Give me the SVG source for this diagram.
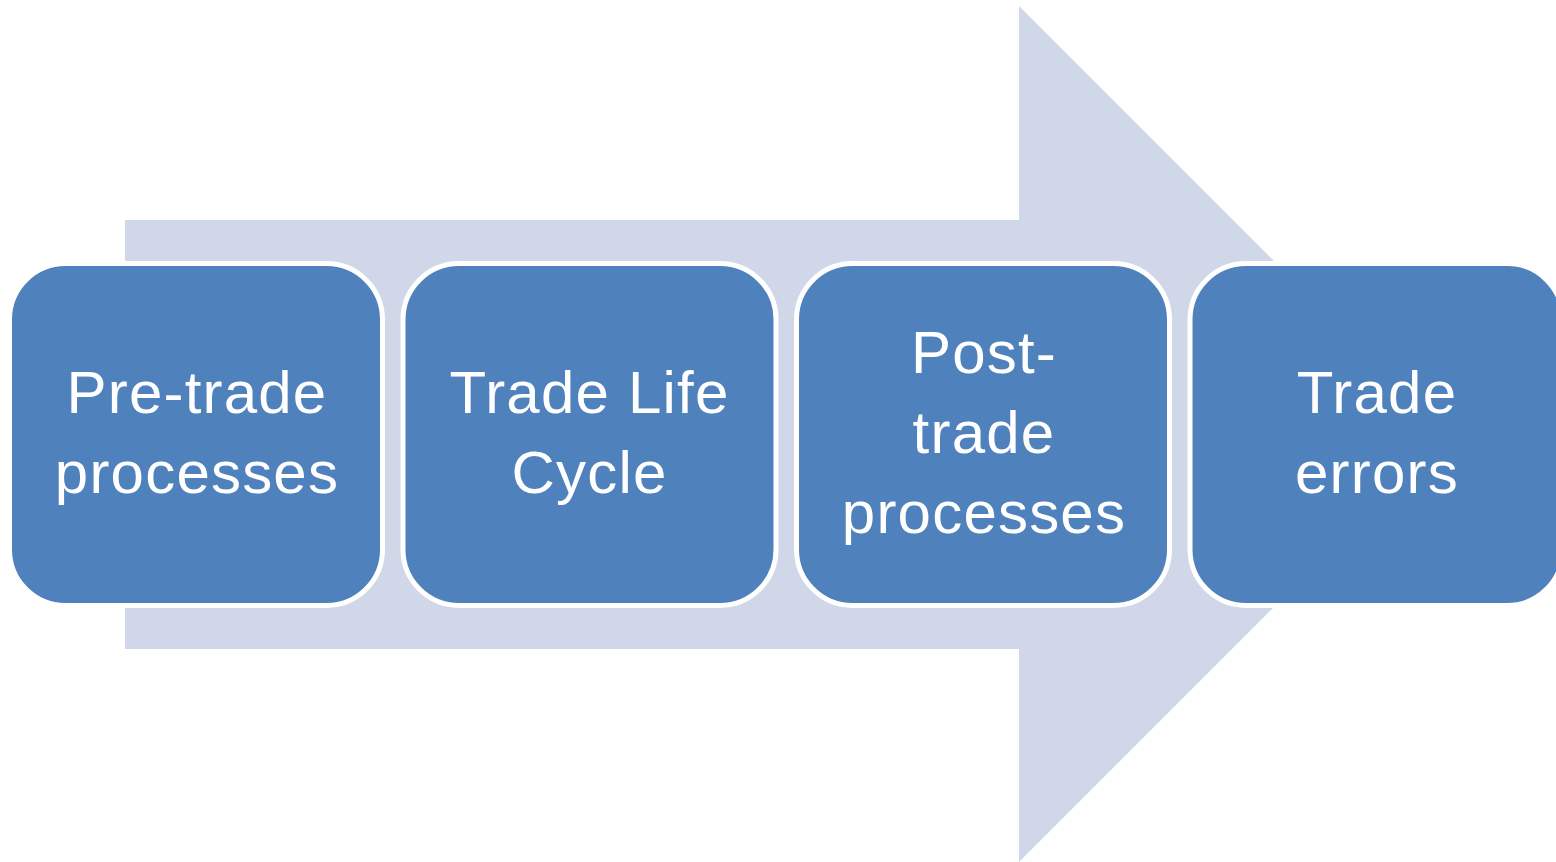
<svg xmlns="http://www.w3.org/2000/svg" width="1556" height="862" viewBox="0 0 1556 862">
<style>
.box{fill:#4F81BD;stroke:#FFFFFF;stroke-width:5}
.lbl{fill:#FFFFFF;font-family:"Liberation Sans",Arial,sans-serif;font-size:60px;text-anchor:middle;letter-spacing:1.2px}
</style>
<rect width="1556" height="862" fill="#FFFFFF"/>
<g id="connectors">
<polygon points="125,220 1019,220 1019,6 1447,434 1019,862 1019,649 125,649" fill="#D0D7E8"/>
</g>
<g id="node1">
<rect class="box" x="9.5" y="263.5" width="373" height="342" rx="56"/>
<text class="lbl" x="197" y="413">Pre-trade</text>
<text class="lbl" x="197" y="493">processes</text>
</g>
<g id="node2">
<rect class="box" x="403" y="263.5" width="373" height="342" rx="56"/>
<text class="lbl" x="589.5" y="413">Trade Life</text>
<text class="lbl" x="589.5" y="493">Cycle</text>
</g>
<g id="node3">
<rect class="box" x="796.5" y="263.5" width="373" height="342" rx="56"/>
<text class="lbl" x="984" y="373">Post-</text>
<text class="lbl" x="984" y="453">trade</text>
<text class="lbl" x="984" y="533">processes</text>
</g>
<g id="node4">
<rect class="box" x="1190" y="263.5" width="373" height="342" rx="56"/>
<text class="lbl" x="1377" y="413">Trade</text>
<text class="lbl" x="1377" y="493">errors</text>
</g>
</svg>
